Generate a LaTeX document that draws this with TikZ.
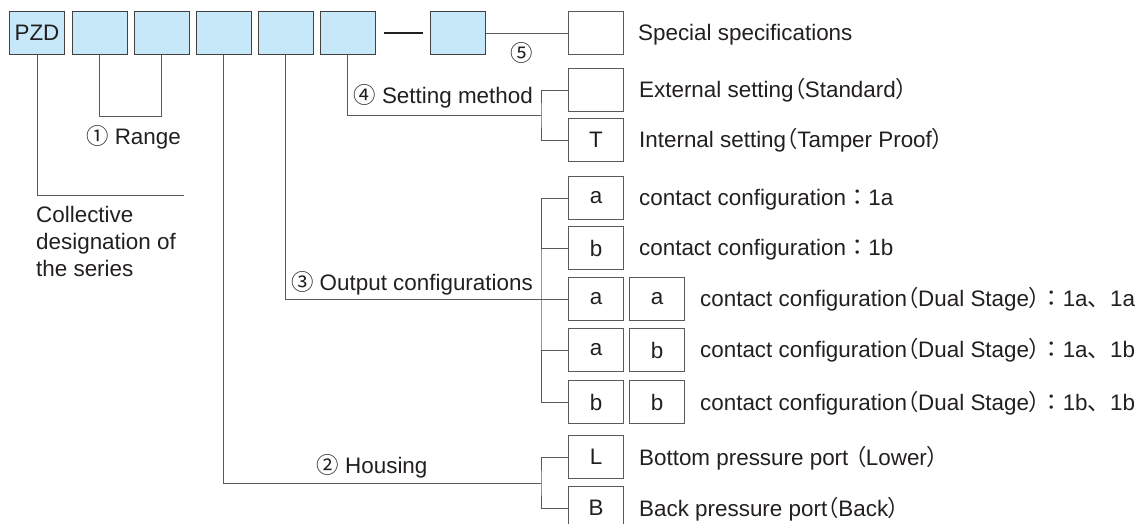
\documentclass[tikz,border=0pt]{standalone}
\usepackage{fontspec}
\setmainfont{Liberation Sans}
\newfontfamily\cjk{Noto Sans CJK JP}
\newfontfamily\cjkp[RawFeature=+palt]{Noto Sans CJK JP}
\usetikzlibrary{calc}
\newcommand\zlp{{\cjkp （}}
\newcommand\zrp{{\cjkp ）}}
\newcommand\zcol{{\cjk ：}}
\newcommand\zcom{{\cjk 、}}
\definecolor{boxblue}{RGB}{198,232,248}
\definecolor{txt}{RGB}{35,31,32}
\definecolor{linegray}{RGB}{90,90,90}
\begin{document}
\begin{tikzpicture}[x=1bp,y=-1bp,
  every node/.style={text=txt,font=\fontsize{22.5}{27}\selectfont},
  topbox/.style={draw=txt!85,fill=boxblue,line width=1bp,minimum width=55bp,minimum height=43bp,inner sep=0pt},
  optbox/.style={draw=linegray,line width=0.9bp,minimum width=55bp,minimum height=43bp,inner sep=0pt},
  desc/.style={anchor=base west,inner sep=0pt},
  lbl/.style={inner sep=0pt},
  conn/.style={draw=linegray,line width=0.9bp},
  dashmark/.style={draw=txt,line width=2bp}]
\useasboundingbox (0,0) rectangle (1141,524);
% top row
\node[topbox] (pzd) at (37,33) {PZD};
\node[topbox] (b2) at (99.5,33) {};
\node[topbox] (b3) at (161.5,33) {};
\node[topbox] (b4) at (223.5,33) {};
\node[topbox] (b5) at (285.5,33) {};
\node[topbox] (b6) at (347.5,33) {};
\node[topbox] (b7) at (458,33) {};
\draw[dashmark] ($(b6.east)+(8,0)$) -- ($(b7.west)+(-7,0)$);
% option boxes
\node[optbox] (spec) at (596,33) {};
\node[optbox] (ext) at (596,90) {};
\node[optbox] (tbox) at (596,140) {T};
\node[optbox] (oa) at (596,198) {a};
\node[optbox] (ob) at (596,248) {b};
\node[optbox] (oaa) at (596,299) {a};
\node[optbox] (oaa2) at (657,299) {a};
\node[optbox] (oab) at (596,350) {a};
\node[optbox] (oab2) at (657,350) {b};
\node[optbox] (obb) at (596,402) {b};
\node[optbox] (obb2) at (657,402) {b};
\node[optbox] (hl) at (596,457) {L};
\node[optbox] (hb) at (596,508) {B};
% descriptions
\node[desc] (dspec) at ($(spec.east)+(14,8)$) {Special specifications};
\node[desc] (dext) at ($(ext.east)+(15,8)$) {External setting\zlp Standard\zrp};
\node[desc] (dt) at ($(tbox.east)+(15,8)$) {Internal setting\zlp Tamper Proof\zrp};
\node[desc] (da) at ($(oa.east)+(15,8)$) {contact configuration\zcol 1a};
\node[desc] (db) at ($(ob.east)+(15,8)$) {contact configuration\zcol 1b};
\node[desc] (daa) at ($(oaa2.east)+(15,8)$) {contact configuration\zlp Dual Stage\zrp\zcol 1a\zcom 1a};
\node[desc] (dab) at ($(oab2.east)+(15,8)$) {contact configuration\zlp Dual Stage\zrp\zcol 1a\zcom 1b};
\node[desc] (dbb) at ($(obb2.east)+(15,8)$) {contact configuration\zlp Dual Stage\zrp\zcol 1b\zcom 1b};
\node[desc] (dl) at ($(hl.east)+(15,8)$) {Bottom pressure port \zlp Lower\zrp};
\node[desc] (dbk) at ($(hb.east)+(15,8)$) {Back pressure port\zlp Back\zrp};
% junctions
\coordinate (sj) at (541,115);
\coordinate (oj) at (541,299);
\coordinate (hj) at (541,483);
\coordinate (colend) at (184,195);
% connectors
\draw[conn] (b7.east) -- (spec.west);
\node[lbl] (n5) at (522,53) {\cjk ⑤};
\draw[conn] (b2.south) -- ++(0,61) -| (b3.south);
\node[lbl] (lrange) at (133.5,137) {{\cjk ①} Range};
\draw[conn] (pzd.south) |- (colend);
\node[anchor=north west,inner sep=0pt,align=left] (lcoll) at (36,206.5) {Collective\\designation of\\the series};
\draw[conn] (b6.south) |- (sj);
\draw[conn] (ext.west) -| (sj) |- (tbox.west);
\node[lbl,anchor=base east] (lset) at (533,104) {{\cjk ④} Setting method};
\draw[conn] (b5.south) |- (oj);
\draw[conn] (oa.west) -| (oj) |- (obb.west);
\draw[conn] (ob.west) -- (ob.west -| oj);
\draw[conn] (oaa.west) -- (oj);
\draw[conn] (oab.west) -- (oab.west -| oj);
\node[lbl,anchor=base east] (lout) at (533,291) {{\cjk ③} Output configurations};
\draw[conn] (b4.south) |- (hj);
\draw[conn] (hl.west) -| (hj) |- (hb.west);
\node[lbl,anchor=base] (lhous) at (372,473) {{\cjk ②} Housing};
\end{tikzpicture}
\end{document}
